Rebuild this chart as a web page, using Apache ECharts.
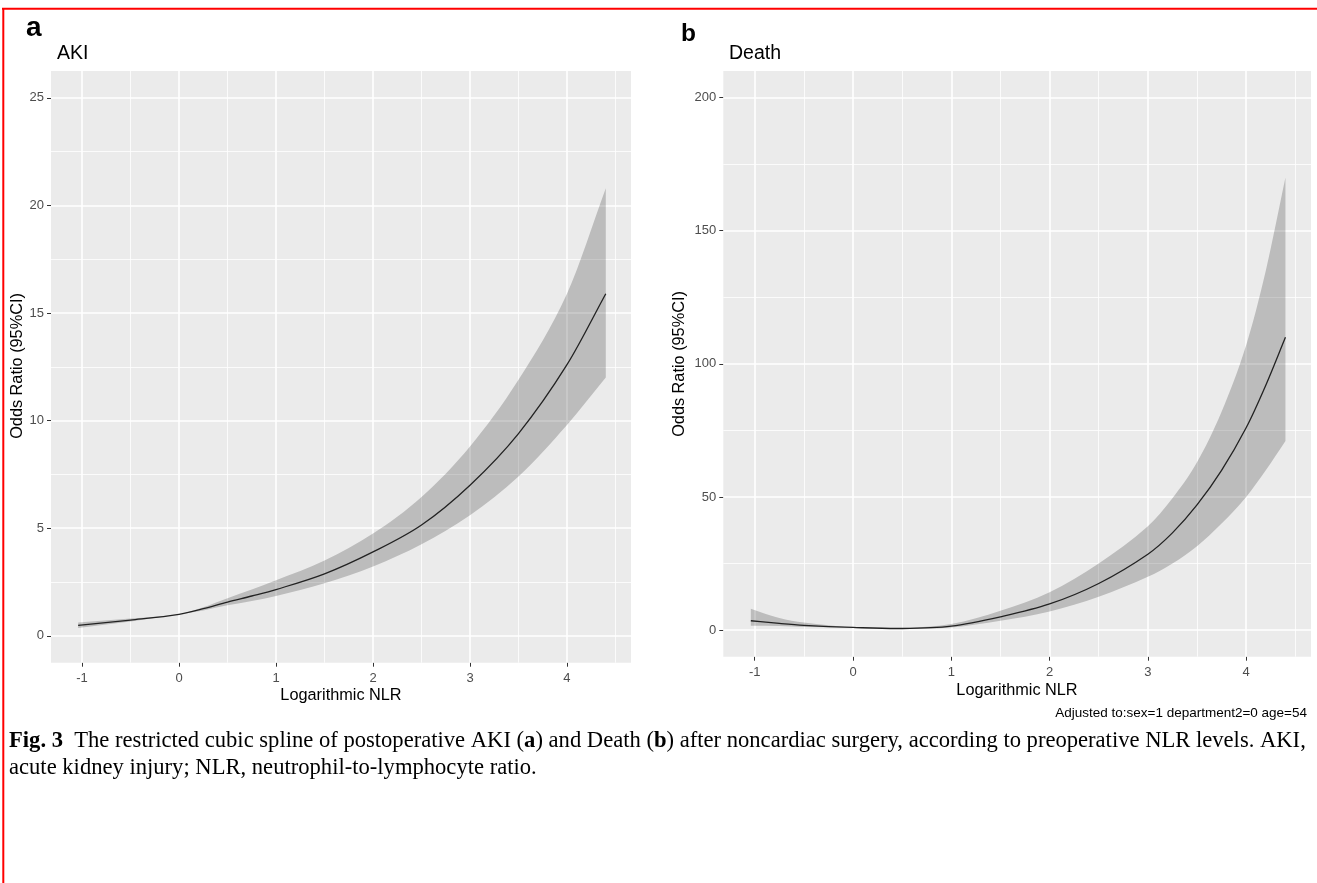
<!DOCTYPE html>
<html><head><meta charset="utf-8">
<script src="https://cdn.jsdelivr.net/npm/echarts@6/dist/echarts.min.js"></script>
<style>html,body{margin:0;padding:0;background:#fff}#c{width:1317px;height:883px}</style>
</head><body><div id="c"></div>
<script>
// ---- Panel a: AKI ----
const xA   = [-1.04, -0.5, 0, 0.25, 0.5, 0.75, 1, 1.5, 2, 2.5, 3, 3.5, 4, 4.4];
const estA = [0.48, 0.73, 1.0, 1.26, 1.57, 1.85, 2.15, 2.88, 3.9, 5.15, 7.0, 9.4, 12.6, 15.9];
const lowA = [0.36, 0.66, 1.0, 1.18, 1.42, 1.62, 1.85, 2.44, 3.22, 4.25, 5.6, 7.4, 9.8, 12.0];
const upA  = [0.62, 0.80, 1.0, 1.33, 1.75, 2.15, 2.58, 3.5, 4.75, 6.45, 8.8, 11.9, 15.9, 20.8];
// ---- Panel b: Death ----
const xB   = [-1.04, -0.75, -0.5, 0, 0.5, 1, 1.5, 2, 2.5, 3, 3.25, 3.5, 3.75, 4, 4.2, 4.4];
const estB = [3.5, 2.5, 1.8, 1.0, 0.6, 1.5, 5.0, 9.8, 17.5, 28.5, 36.5, 47, 60, 76, 92, 110];
const lowB = [1.6, 1.5, 1.2, 1.0, 0.45, 1.0, 3.5, 7.0, 12.5, 20, 25, 31.5, 40, 50, 60, 71];
const upB  = [8.0, 4.5, 2.8, 1.0, 0.8, 2.3, 7.3, 14.2, 25, 39, 49.5, 63, 82, 107, 135, 170];
// ---- ticks / gridlines ----
const xMajor  = [-1, 0, 1, 2, 3, 4];
const xMinor  = [-0.5, 0.5, 1.5, 2.5, 3.5, 4.5];
const yMajorA = [0, 5, 10, 15, 20, 25];
const yMinorA = [2.5, 7.5, 12.5, 17.5, 22.5];
const yMajorB = [0, 50, 100, 150, 200];
const yMinorB = [25, 75, 125, 175];

const FONT = '"Liberation Sans", Arial, sans-serif';
const SERIF = '"Liberation Serif", "Times New Roman", serif';

// Cubic Hermite spline (x-monotone) through pixel points -> SVG cubic commands
function crSeg(P) {
  const n = P.length;
  const m = P.map((p, i) => {
    const a = P[Math.max(i - 1, 0)], b = P[Math.min(i + 1, n - 1)];
    return (b[1] - a[1]) / (b[0] - a[0]);
  });
  let s = '';
  for (let i = 0; i < n - 1; i++) {
    const p1 = P[i], p2 = P[i + 1], h = (p2[0] - p1[0]) / 3;
    const c1 = [p1[0] + h, p1[1] + m[i] * h];
    const c2 = [p2[0] - h, p2[1] - m[i + 1] * h];
    s += ' C ' + c1[0] + ' ' + c1[1] + ' ' + c2[0] + ' ' + c2[1] + ' ' + p2[0] + ' ' + p2[1];
  }
  return s;
}

function gridLines(idx, yMaj, yMin) {
  const maj = {color: '#ffffff', width: 1.6, type: 'solid'};
  const min = {color: '#ffffff', width: 0.8, type: 'solid'};
  const data = []
    .concat(xMinor.map(v => ({xAxis: v, lineStyle: min})))
    .concat(yMin.map(v => ({yAxis: v, lineStyle: min})))
    .concat(xMajor.map(v => ({xAxis: v, lineStyle: maj})))
    .concat(yMaj.map(v => ({yAxis: v, lineStyle: maj})));
  return {
    type: 'line', xAxisIndex: idx, yAxisIndex: idx, data: [], silent: true, z: 1,
    markLine: {silent: true, z: 1, symbol: ['none', 'none'], animation: false,
      label: {show: false}, emphasis: {disabled: true}, data: data}
  };
}
function ribbon(idx, xs, lo, up) {
  return {type: 'custom', xAxisIndex: idx, yAxisIndex: idx, z: 3, silent: true,
    data: xs.map((x, i) => [x, lo[i], up[i]]),
    encode: {x: 0, y: [1, 2]},
    renderItem: function (params, api) {
      if (params.dataIndex !== 0) return null;
      const U = xs.map((x, i) => api.coord([x, up[i]]));
      const L = xs.map((x, i) => api.coord([x, lo[i]]));
      const Lr = L.slice().reverse();
      // build lower edge forward, then reverse its path by drawing from the right end
      const d = 'M ' + U[0][0] + ' ' + U[0][1] + crSeg(U) +
                ' L ' + Lr[0][0] + ' ' + Lr[0][1] + crSegRev(L) + ' Z';
      return {type: 'path', shape: {pathData: d}, style: {fill: 'rgba(0,0,0,0.2)', stroke: null}};
    }};
}
// Same spline as crSeg but traversed from the last point back to the first
function crSegRev(P) {
  const n = P.length;
  const m = P.map((p, i) => {
    const a = P[Math.max(i - 1, 0)], b = P[Math.min(i + 1, n - 1)];
    return (b[1] - a[1]) / (b[0] - a[0]);
  });
  let s = '';
  for (let i = n - 1; i > 0; i--) {
    const p2 = P[i], p1 = P[i - 1], h = (p2[0] - p1[0]) / 3;
    const c2 = [p2[0] - h, p2[1] - m[i] * h];
    const c1 = [p1[0] + h, p1[1] + m[i - 1] * h];
    s += ' C ' + c2[0] + ' ' + c2[1] + ' ' + c1[0] + ' ' + c1[1] + ' ' + p1[0] + ' ' + p1[1];
  }
  return s;
}
function estLine(idx, xs, est) {
  return {type: 'custom', xAxisIndex: idx, yAxisIndex: idx, z: 4, silent: true,
    data: xs.map((x, i) => [x, est[i]]),
    encode: {x: 0, y: 1},
    renderItem: function (params, api) {
      if (params.dataIndex !== 0) return null;
      const P = xs.map((x, i) => api.coord([x, est[i]]));
      const d = 'M ' + P[0][0] + ' ' + P[0][1] + crSeg(P);
      return {type: 'path', shape: {pathData: d},
        style: {fill: null, stroke: '#222222', lineWidth: 1.3, lineJoin: 'round'}};
    }};
}
function xAxisCfg(idx) {
  return {type: 'value', gridIndex: idx, min: -1.32, max: 4.66,
    axisLine: {show: false, onZero: false}, splitLine: {show: false},
    axisTick: {show: true, length: 4, lineStyle: {color: '#333333', width: 1}, customValues: xMajor},
    axisLabel: {customValues: xMajor, color: '#4d4d4d', fontSize: 13, fontFamily: FONT, margin: 9}};
}
function yAxisCfg(idx, min, max, ticks) {
  return {type: 'value', gridIndex: idx, min: min, max: max,
    axisLine: {show: false, onZero: false}, splitLine: {show: false},
    axisTick: {show: true, length: 4, lineStyle: {color: '#333333', width: 1}, customValues: ticks},
    axisLabel: {customValues: ticks, color: '#4d4d4d', fontSize: 13, fontFamily: FONT, margin: 7}};
}
function txt(x, y, text, size, opts) {
  return Object.assign({type: 'text', x: x, y: y, silent: true,
    style: Object.assign({text: text, fontSize: size, fontFamily: FONT, fill: '#000',
      align: 'left', verticalAlign: 'middle'}, (opts && opts.style) || {})},
    opts && opts.extra || {});
}

const chart = echarts.init(document.getElementById('c'));
chart.setOption({
  animation: false,
  backgroundColor: '#ffffff',
  grid: [
    {left: 51, top: 71, width: 580, height: 591.7, show: true, backgroundColor: '#ebebeb', borderWidth: 0, containLabel: false},
    {left: 723.3, top: 71, width: 587.7, height: 585.7, show: true, backgroundColor: '#ebebeb', borderWidth: 0, containLabel: false}
  ],
  xAxis: [xAxisCfg(0), xAxisCfg(1)],
  yAxis: [yAxisCfg(0, -1.25, 26.25, yMajorA), yAxisCfg(1, -10, 210, yMajorB)],
  series: [
    gridLines(0, yMajorA, yMinorA),
    gridLines(1, yMajorB, yMinorB),
    ribbon(0, xA, lowA, upA),
    estLine(0, xA, estA),
    ribbon(1, xB, lowB, upB),
    estLine(1, xB, estB)
  ],
  graphic: [
    {type: 'line', silent: true, shape: {x1: 2, y1: 8.7, x2: 1317, y2: 8.7}, style: {stroke: '#ff0000', lineWidth: 2}},
    {type: 'line', silent: true, shape: {x1: 3.3, y1: 8, x2: 3.3, y2: 883}, style: {stroke: '#ff0000', lineWidth: 2}},
    txt(26, 28.6, 'a', 28, {style: {fontWeight: 'bold'}}),
    txt(681, 34.2, 'b', 24.5, {style: {fontWeight: 'bold'}}),
    txt(57, 53.3, 'AKI', 19.5),
    txt(729, 53.5, 'Death', 19.5),
    txt(341, 696, 'Logarithmic NLR', 16.3, {style: {align: 'center'}}),
    txt(1017, 691, 'Logarithmic NLR', 16.3, {style: {align: 'center'}}),
    txt(17.5, 366, 'Odds Ratio (95%CI)', 16.3, {style: {align: 'center'}, extra: {rotation: Math.PI / 2}}),
    txt(680, 364, 'Odds Ratio (95%CI)', 16.3, {style: {align: 'center'}, extra: {rotation: Math.PI / 2}}),
    txt(1307, 713, 'Adjusted to:sex=1 department2=0 age=54', 13.5, {style: {align: 'right'}}),
    {type: 'text', x: 9, y: 728, silent: true,
     style: {
       text: '{b|Fig. 3}  The restricted cubic spline of postoperative AKI ({b|a}) and Death ({b|b}) after noncardiac surgery, according to preoperative NLR levels. AKI,\nacute kidney injury; NLR, neutrophil-to-lymphocyte ratio.',
       fontSize: 22.6, fontFamily: SERIF, fill: '#000',
       lineHeight: 27, align: 'left', verticalAlign: 'top',
       rich: {b: {fontWeight: 'bold', fontSize: 22.6, fontFamily: SERIF, lineHeight: 27}}
     }}
  ]
});
</script></body></html>
